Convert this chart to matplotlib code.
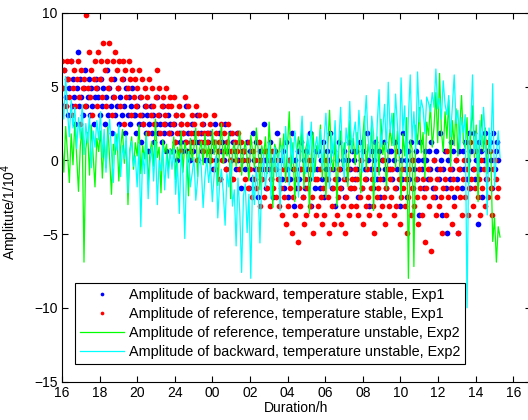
import numpy as np
import matplotlib
matplotlib.use("Agg")
import matplotlib.pyplot as plt

# ---------------- data ----------------
# Exp1 amplitudes are quantized; values are given as level indices times LEVEL_STEP
LEVEL_STEP = 0.615
T_END_DOTS = 23.2   # hours after 16:00
T_END_LINES = 23.3

red_levels = [
    11, 8, 10, 6, 11, 9, 7, 11, 5, 8, 10, 6, 9, 11, 7, 4, 10, 8, 9, 6, 16, 8, 12, 7, 10, 5, 9, 11, 8, 6,
    12, 9, 11, 7, 13, 10, 6, 11, 8, 13, 9, 5, 11, 7, 12, 10, 8, 11, 6, 9, 11, 4, 10, 7, 8, 11, 9, 5, 10, 7,
    9, 6, 8, 10, 5, 7, 9, 4, 8, 6, 7, 3, 9, 5, 8, 6, 4, 7, 10, 5, 8, 3, 6, 7, 4, 5, 8, 6, 3, 7,
    6, 4, 7, 2, 5, 3, 6, 1, 4, 5, 3, 7, 2, 4, 6, 1, 3, 5, 2, 4, 6, 0, 3, 5, 2, 4, 1, 3, 5, 2,
    3, 1, 4, 0, 2, 5, -1, 3, 1, 2, -2, 4, 0, 3, 1, -1, 2, 4, 0, 1, 3, -2, 2, 0, 1, 3, -1, 2, 0, 1,
    1, -2, 0, -3, 2, -1, -4, 1, -2, 0, -3, -1, 2, -5, 0, -2, -4, 1, -1, -3, 0, -5, -2, 1, -3, -1, -4, 0, -2, -5,
    -3, -6, -1, -4, -7, -2, -5, 0, -3, -8, -4, -1, -6, -2, -9, -3, -5, -1, -4, -7, -2, -6, -3, 0, -5, -1, -4, -8, -2, -6,
    -2, -5, -1, -4, -7, -3, -6, 0, -2, -4, -8, -1, -5, -3, -7, -2, -6, -4, -1, -3, -7, -5, -2, -8, -4, -1, -6, -3, -5, -2,
    -3, -1, -5, -2, -6, -4, 0, -3, -7, -2, -5, -1, -4, -6, -3, -2, -5, -8, -1, -4, -3, -6, -2, -5, 0, -4, -7, -3, -1, -5,
    -2, -4, -1, -6, -3, -5, 1, -2, -7, -4, -1, -3, -5, -2, -8, -4, -1, -6, -3, 0, -5, -2, -4, -7, -1, -3, -6, -2, -4, -9,
    -3, -1, -5, -2, -10, -4, 0, -3, -6, -2, -5, -1, -4, -8, -3, -2, -6, 1, -4, -1, -3, -7, -2, -5, 0, -3, -8, -1, -4, -6,
    -2, 0, -4, -1, -6, -3, 2, -2, -5, -1, -3, 1, -4, -2, -6, 0, -3, -1, -5, 2, -2, -4, 1, -3, -6, -1, 0, -2, -4, -3,
]

blue_levels = [
    8, 6, 10, 7, 9, 5, 8, 11, 6, 9, 7, 4, 8, 12, 6, 9, 7, 5, 8, 10, 6, 7, 9, 5, 8, 6, 4, 7, 9, 8,
    7, 5, 9, 6, 8, 4, 7, 10, 5, 8, 6, 3, 7, 9, 5, 6, 8, 4, 7, 5, 9, 6, 3, 8, 5, 7, 4, 6, 8, 5,
    5, 3, 6, 4, 7, 2, 5, 4, 6, 3, 5, 1, 4, 6, 3, 5, 2, 4, 7, 3, 5, 4, 2, 6, 3, 4, 1, 5, 3, 4,
    3, 1, 4, 2, 5, 0, 3, 2, 4, 1, 3, 2, 6, 1, 3, 0, 2, 4, 1, 3, 2, 5, 0, 2, 3, 1, 4, 2, 0, 3,
    2, 0, 3, 1, -1, 2, 4, 0, 1, 3, -2, 1, 2, 0, 4, -1, 2, 1, 3, 0, -2, 2, 1, -1, 3, 0, 2, -3, 1, 0,
    1, -1, 2, 0, -3, 1, -2, 3, 0, -1, 2, -4, 0, 1, -2, -1, 4, 0, -3, 1, -1, 2, -2, 0, -4, 1, -1, 3, 0, -2,
    0, -2, 1, -3, 2, -1, -4, 0, -2, 3, -1, -5, 0, -3, 1, -2, -1, 2, -4, 0, -3, 1, -1, -2, 3, -5, 0, -1, -3, 1,
    -1, 1, -3, 0, -2, 2, -4, -1, 1, -2, 0, 3, -3, -1, 1, -5, 0, -2, 2, -1, -3, 0, 1, -4, -2, 0, 2, -1, -3, 1,
    0, -2, 1, -1, -4, 2, 0, -3, 1, -1, -2, 3, 0, -5, -1, 1, -3, 0, 2, -2, -1, 1, -4, 0, -2, 2, -1, -3, 0, 1,
    -1, 1, -2, 0, 2, -3, -1, 1, -5, 0, -2, 3, -1, 0, -4, 1, -2, 2, 0, -3, -1, 1, -2, 0, -6, 2, -1, 0, -3, 1,
    0, -2, 1, -1, 2, -3, 0, -4, 1, -1, -2, 3, 0, -6, -1, 1, -3, -8, 0, -2, 2, -1, 1, -4, 0, -2, -8, 1, -1, -3,
    1, -1, 2, -2, 0, 3, -3, 1, -1, 3, -2, 0, -7, 2, -1, 1, -4, 0, 3, -2, 1, -1, 2, 0, -3, 3, -1, 1, 2, 0,
]

green_ref_exp2 = [
    1.2, -0.8, 2.3, 0.5, -1.5, 1.8, -0.3, 2.6, 0.2, -2.1, 1.0, 2.2, -6.9, 0.8, 1.9, -1.0, 2.4, 0.3, -1.8, 1.5,
    0.6, 2.0, -1.2, 1.4, -0.5, 2.3, 0.1, -2.3, 1.1, 0.4, 1.8, -1.4, 0.9, 2.1, -0.2, 1.3, -3.0, 0.7, 1.6, -0.6,
    1.2, 0.3, 2.4, -0.9, 1.0, 0.1, 1.9, -1.6, 0.6, 1.3, -0.4, 2.8, 0.2, 0.9, -2.2, 1.4, 0.5, 1.1, -0.7, 0.8,
    0.4, 1.6, -1.3, 0.9, 0.1, 2.0, -0.8, 1.2, 0.6, -2.4, 1.5, 0.0, 0.9, 2.2, -1.1, 0.7, 1.3, -0.3, 1.8, 0.2,
    1.0, -0.6, 2.1, 0.4, 1.4, -1.7, 0.8, 2.5, -0.2, 1.1, 0.3, 1.9, -2.6, 0.6, 1.2, -0.4, 0.9, 2.0, -1.0, 0.5,
    1.3, 0.1, -1.4, 1.7, 0.6, -0.5, 2.2, 0.8, -2.0, 1.0, 0.3, 1.6, -0.9, 2.6, 0.4, -3.2, 1.1, 0.7, -0.2, 1.5,
    0.2, 1.8, -1.5, 0.9, 3.3, -0.6, 1.2, -2.8, 0.5, 1.6, -0.1, 2.3, -1.9, 0.8, 1.4, -3.6, 0.3, 1.9, -0.8, 1.0,
    0.6, 2.4, -1.2, 1.3, -2.5, 0.9, 3.4, 0.1, -0.7, 1.7, -3.1, 0.8, 2.0, -0.4, 1.2, 0.4, -1.8, 2.7, 0.5, 1.5,
    -0.3, 1.9, 0.7, -2.2, 1.4, 3.0, -0.6, 1.1, 0.2, 2.5, -3.4, 0.9, 1.6, -1.0, 2.8, 0.4, 1.2, -2.0, 0.8, 2.1,
    1.0, 3.2, -0.5, 2.0, 0.6, -2.7, 1.8, 0.3, 2.9, -8.0, 1.4, 0.8, -7.2, 2.4, 1.1, 3.6, 0.5, 1.9, -1.2, 2.6,
    1.7, 3.8, 0.9, 2.3, 4.6, 1.2, 5.9, 2.0, 0.6, 3.3, 1.5, 4.1, -0.4, 2.7, 1.0, 3.5, 0.3, 2.2, 4.4, 1.3,
    0.8, 2.9, -1.6, 1.8, 3.7, 0.2, 2.4, -2.8, 1.3, 3.1, 0.6, 2.2, -0.9, 1.5, 0.4, -5.5, -3.9, -6.9, -4.5, -5.2,
]

cyan_bwd_exp2 = [
    4.5, 2.8, 5.7, 3.3, 1.6, 4.1, 2.2, 3.6, 0.8, 2.9, 1.5, 3.8, 0.4, 2.5, 1.2, 3.1, -0.5, 2.0, 0.9, 2.7,
    1.4, 3.3, 0.2, 2.1, -0.8, 1.6, 2.8, 0.5, -1.5, 1.9, 0.7, 2.4, -1.1, 1.0, 0.1, 1.7, -2.2, 0.6, 1.3, -0.4,
    0.3, -1.8, 1.1, -4.5, 0.5, -0.9, 1.6, -2.6, -0.2, 0.9, -1.4, 1.3, -3.0, 0.0, -0.7, 1.0, -2.0, 0.4, -1.2, 0.7,
    -0.6, 0.8, -2.3, -0.1, -3.6, 0.5, -1.0, -5.3, -0.4, 0.6, -1.8, -0.9, 0.2, -2.7, -1.3, 0.4, -0.5, -3.2, -1.1, 0.1,
    -1.5, -0.3, -2.8, -1.0, 0.3, -3.9, -1.6, -0.6, -2.2, -4.4, -0.9, -1.8, 0.0, -3.1, -2.0, -5.8, -1.2, -3.5, -7.6, -2.4,
    -1.6, -4.9, -2.3, -8.0, -1.0, -3.0, -0.4, -2.0, -5.6, -1.3, 0.4, -1.8, -0.6, 1.2, -2.6, -0.2, 0.9, -1.1, 0.5, -3.4,
    1.0, -0.5, 2.3, 0.3, -1.7, 1.5, -0.2, 2.0, 0.6, -2.5, 1.2, 3.0, 0.1, -0.9, 1.8, 0.4, 2.6, -1.4, 0.8, 1.6,
    0.2, 2.1, -0.6, 1.4, 3.2, 0.7, -1.9, 1.9, 0.3, 2.7, -0.4, 1.1, 3.6, 0.5, -1.3, 2.2, 1.0, 4.0, 0.6, 1.7,
    2.6, 0.4, 3.4, 1.2, -0.8, 2.3, 4.4, 1.5, 0.2, 3.0, 1.8, -1.5, 2.5, 4.8, 0.9, 2.1, 3.8, 0.6, 5.3, 1.9,
    3.2, 1.0, 4.5, 2.4, 0.3, 5.6, 2.0, 3.7, -1.0, 2.9, 5.8, 1.4, 3.3, 0.7, 6.0, 2.6, 4.1, 3.5, 1.8, 4.3,
    3.9, 3.3, 4.6, 3.6, 6.2, 3.5, 4.2, 2.8, 5.4, 3.8, 3.1, 4.4, 1.6, 3.7, 5.8, 2.5, 3.4, 0.8, 2.9, 1.9,
    3.1, -10.0, 1.2, 2.4, 5.8, 0.5, 1.8, -0.9, 2.7, 0.9, 3.6, 1.5, -3.7, 2.2, 0.6, 5.2, -1.8, 0.4, 2.0, 0.2,
]

tick_hours = [0, 2, 4, 6, 8, 10, 12, 14, 16, 18, 20, 22, 24]
tick_labels = ['16', '18', '20', '24', '00', '02', '04', '06', '08', '10', '12', '14', '16']

labels = [
    'Amplitude of backward, temperature stable, Exp1',
    'Amplitude of reference, temperature stable, Exp1',
    'Amplitude of reference, temperature unstable, Exp2',
    'Amplitude of backward, temperature unstable, Exp2',
]

# ---------------- plot ----------------
plt.rcParams['font.family'] = ['Liberation Sans', 'DejaVu Sans']
plt.rcParams['font.size'] = 10

W, H = 528, 420
fig = plt.figure(figsize=(W / 100, H / 100), dpi=100)
ax_left, ax_right, ax_top, ax_bottom = 62, 531, 13, 381.5
ax = fig.add_axes([ax_left / W, (H - ax_bottom) / H,
                   (ax_right - ax_left) / W, (ax_bottom - ax_top) / H])

t_dots_b = np.linspace(0, T_END_DOTS, len(blue_levels))
t_dots_r = np.linspace(0, T_END_DOTS, len(red_levels))
t_g = np.linspace(0, T_END_LINES, len(green_ref_exp2))
t_c = np.linspace(0, T_END_LINES, len(cyan_bwd_exp2))

blue_vals = np.array(blue_levels) * LEVEL_STEP
red_vals = np.array(red_levels) * LEVEL_STEP

ax.plot(t_dots_b, blue_vals, linestyle='none', marker='o', ms=4.1,
        mfc='#0000ff', mec='none', label=labels[0])
ax.plot(t_dots_r, red_vals, linestyle='none', marker='o', ms=4.1,
        mfc='#ff0000', mec='none', label=labels[1])
ax.plot(t_g, green_ref_exp2, color='#00ff00', lw=0.9, label=labels[2])
ax.plot(t_c, cyan_bwd_exp2, color='#00ffff', lw=0.9, label=labels[3])

ax.set_xlim(0, (ax_right - ax_left) / 18.8)
ax.set_ylim(-15, 10)
ax.set_xticks(tick_hours)
ax.set_xticklabels(tick_labels)
ax.set_yticks([-15, -10, -5, 0, 5, 10])
ax.tick_params(direction='in', top=True, right=True, length=4, width=0.8,
               labelsize=10, pad=3)
for s in ax.spines.values():
    s.set_linewidth(0.8)

ax.set_xlabel('Duration/h', fontsize=10, labelpad=1)
ax.set_ylabel('Amplitute/1/10$^4$', fontsize=10, labelpad=6)
ax.yaxis.set_label_coords(-0.088, 0.46)

leg = ax.legend(loc='lower left', bbox_to_anchor=(0.027, 0.048),
                fancybox=False, framealpha=1, edgecolor='black',
                handlelength=3.1, handletextpad=0.3, labelspacing=0.33,
                borderpad=0.35, borderaxespad=0, markerscale=0.65,
                prop={'size': 10.4})
leg.get_frame().set_linewidth(0.8)

fig.savefig('out.png', dpi=100)
